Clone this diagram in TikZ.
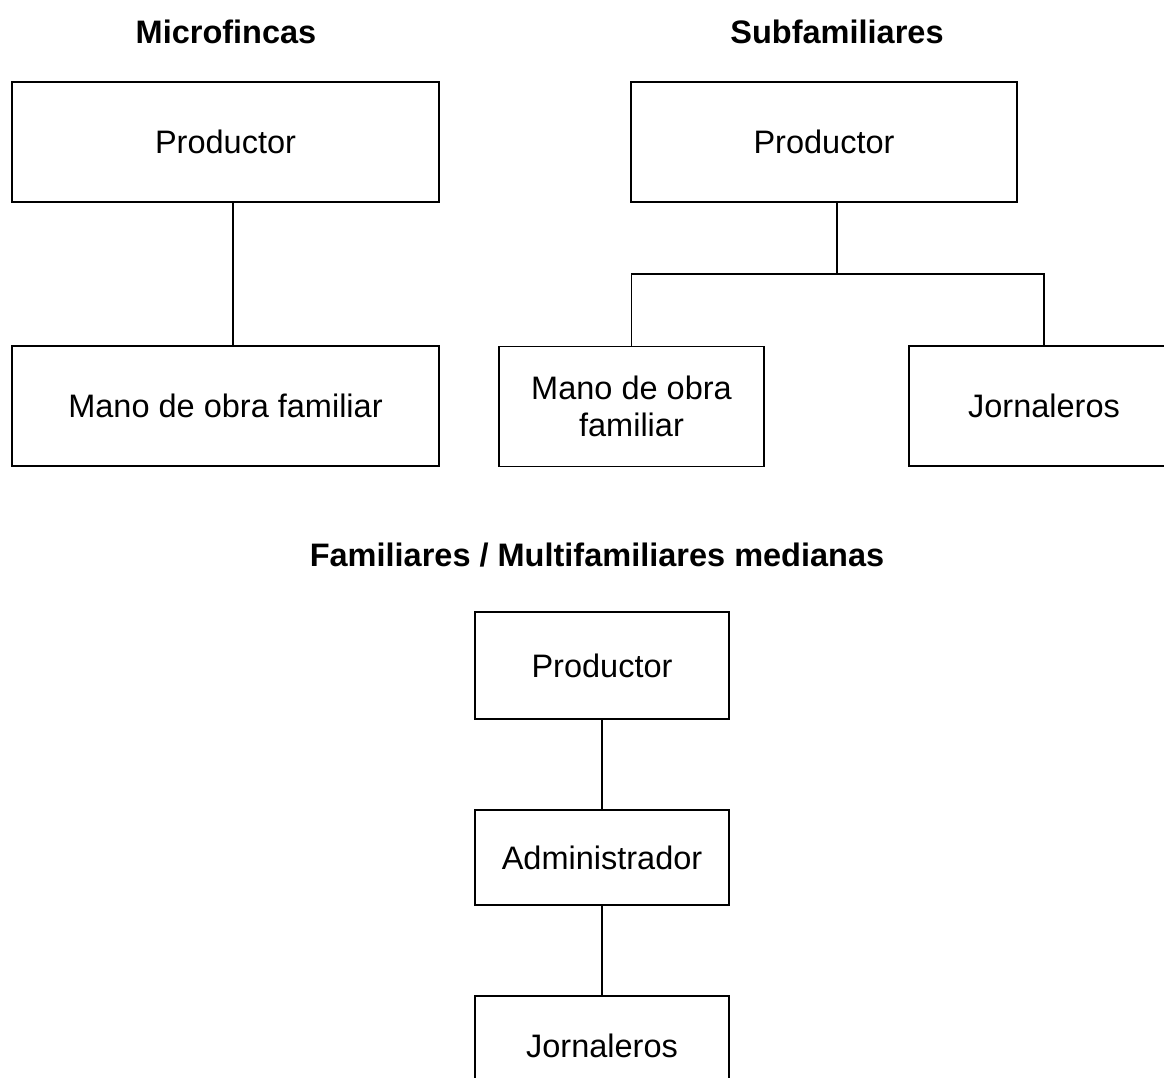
\documentclass[tikz,border=0pt]{standalone}
\usepackage{fontspec}
\setmainfont{Liberation Sans}
\begin{document}
\begin{tikzpicture}[x=1pt,y=-1pt,
  box/.style={draw,line width=1.1pt,inner sep=0pt,align=center,
    font=\fontsize{32.5}{37}\selectfont},
  title/.style={inner sep=0pt,font=\fontsize{32.5}{37}\selectfont\bfseries},
  link/.style={line width=1.1pt}]
\path[use as bounding box,clip] (0,0) rectangle (1164,1078);
\fill[white] (0,0) rectangle (1164,1078);
% titles
\node[title] (t1) at (226,32) {Microfincas};
\node[title] (t2) at (837,32) {Subfamiliares};
\node[title] (t3) at (597,555) {Familiares / Multifamiliares medianas};
% Microfincas
\node[box,minimum width=427pt,minimum height=120pt] (p1) at (225.5,142) {Productor};
\node[box,minimum width=427pt,minimum height=120pt] (m1) at (225.5,406) {Mano de obra familiar};
\coordinate (c1) at (233,0);
\draw[link] (p1.south -| c1) -- (m1.north -| c1);
% Subfamiliares
\node[box,minimum width=386pt,minimum height=120pt] (p2) at (824,142) {Productor};
\node[box,minimum width=265pt,minimum height=120pt] (m2) at (631.5,406.5) {Mano de obra\\familiar};
\node[box,minimum width=270pt,minimum height=120pt] (j2) at (1044,406) {Jornaleros};
\coordinate (jn) at (837,274);
\draw[link] (p2.south -| jn) -- (jn);
\draw[link] (jn) -| (m2);
\draw[link] (jn) -| (j2);
% Familiares / Multifamiliares medianas
\node[box,minimum width=254pt,minimum height=107pt] (p3) at (602,665.5) {Productor};
\node[box,minimum width=254pt,minimum height=95pt] (a3) at (602,857.5) {Administrador};
\node[box,minimum width=254pt,minimum height=100pt] (j3) at (602,1046) {Jornaleros};
\draw[link] (p3) -- (a3);
\draw[link] (a3) -- (j3);
\end{tikzpicture}
\end{document}
